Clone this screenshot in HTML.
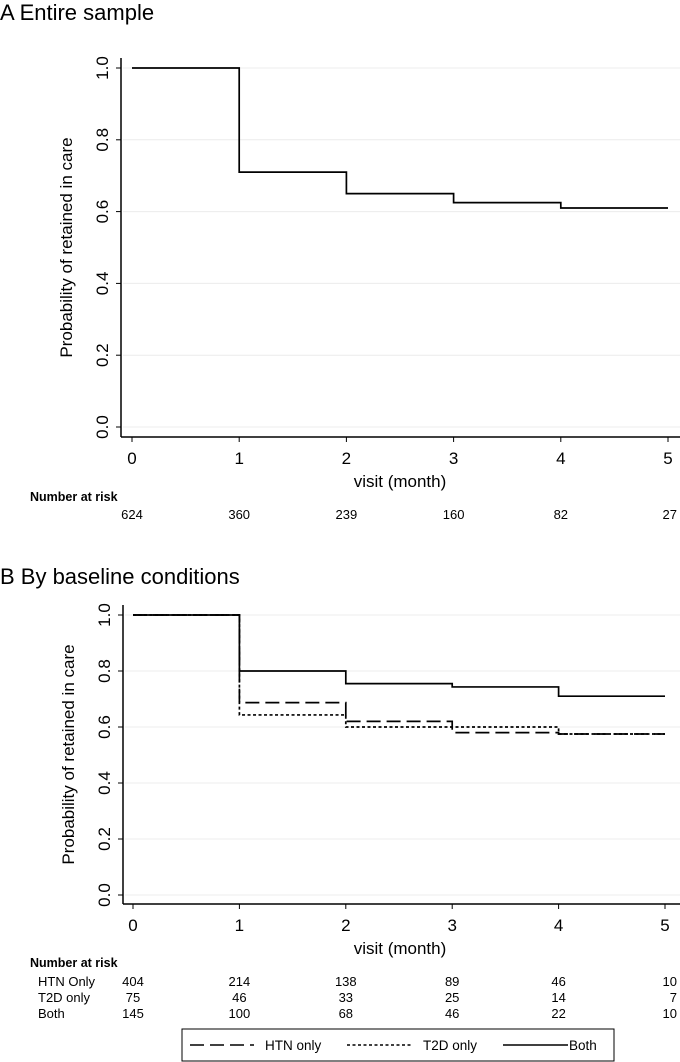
<!DOCTYPE html>
<html><head><meta charset="utf-8"><style>
html,body{margin:0;padding:0;background:#fff;}
svg{display:block;font-family:"Liberation Sans",Arial,sans-serif;}
</style></head><body>
<svg id="c" width="680" height="1062" viewBox="0 0 680 1062">
<text x="0" y="20" font-size="22">A  Entire sample</text>
<text x="0" y="584" font-size="22">B  By baseline conditions</text>
<g id="gA"></g>
<g id="gB"></g>
<g>
<rect x="182" y="1029" width="432" height="32" fill="none" stroke="#000" stroke-width="1"/>
<line x1="190" y1="1045" x2="254" y2="1045" stroke="#000" stroke-width="1.6" stroke-dasharray="14,6"/>
<text x="265" y="1050" font-size="13.5">HTN only</text>
<line x1="347" y1="1045" x2="411" y2="1045" stroke="#000" stroke-width="1.6" stroke-dasharray="3,2.5"/>
<text x="423" y="1050" font-size="13.5">T2D only</text>
<line x1="503" y1="1045" x2="568" y2="1045" stroke="#000" stroke-width="1.6"/>
<text x="569" y="1050" font-size="13.5">Both</text>
</g>
</svg>
<script>
const xTicks=[0,1,2,3,4,5];
const yTicks=[0,0.2,0.4,0.6,0.8,1.0];
const yTickLabels=["0.0","0.2","0.4","0.6","0.8","1.0"];
const survA=[1.0,0.71,0.65,0.625,0.61];
const riskA=[624,360,239,160,82,27];
const survBoth=[1.0,0.80,0.755,0.743,0.71];
const survHTN=[1.0,0.687,0.62,0.58,0.575];
const survT2D=[1.0,0.643,0.60,0.60,0.575];
const riskHTN=[404,214,138,89,46,10];
const riskT2D=[75,46,33,25,14,7];
const riskBoth=[145,100,68,46,22,10];
const NS="http://www.w3.org/2000/svg";
function mk(tag,attrs,parent,txt){const e=document.createElementNS(NS,tag);for(const k in attrs)e.setAttribute(k,attrs[k]);if(txt!==undefined)e.textContent=txt;parent.appendChild(e);return e;}
function panel(g,cfg){
  const sx=v=>cfg.x0+(cfg.x5-cfg.x0)*v/5;
  const sy=v=>cfg.y0+(cfg.y1-cfg.y0)*v;
  yTicks.forEach((t,i)=>{
    const gl=mk('line',{x1:cfg.ax+2,x2:680,y1:sy(t),y2:sy(t),stroke:'#ececec','stroke-width':1},g);
    
    
    const tk=mk('line',{x1:cfg.ax-5,x2:cfg.ax,y1:sy(t),y2:sy(t),stroke:'#000','stroke-width':1},g);
    
    
    const lb=mk('text',{x:0,y:0,'font-size':17,'text-anchor':'middle',transform:`translate(${cfg.ax-13},${sy(t)}) rotate(-90)`},g,yTickLabels[i]);
    
    
  });
  const ya=mk('line',{x1:cfg.ax,x2:cfg.ax,y1:cfg.top,y2:cfg.xa,stroke:'#000','stroke-width':1.5},g);
  
  
  const xa=mk('line',{x1:cfg.ax,x2:680,y1:cfg.xa,y2:cfg.xa,stroke:'#000','stroke-width':1.5},g);
  
  
  xTicks.forEach(t=>{
    const tk=mk('line',{x1:sx(t),x2:sx(t),y1:cfg.xa,y2:cfg.xa+5,stroke:'#000','stroke-width':1},g);
    
    
    const lb=mk('text',{x:sx(t),y:cfg.xa+27,'font-size':17,'text-anchor':'middle'},g,String(t));
    
    
  });
  const xt=mk('text',{x:400,y:cfg.xa+50,'font-size':17,'text-anchor':'middle'},g,'visit (month)');
  
  
  const ytl=mk('text',{x:0,y:0,'font-size':17,'text-anchor':'middle',transform:`translate(${cfg.ax-49},${(cfg.top+cfg.xa)/2}) rotate(-90)`},g,'Probability of retained in care');
  
  
  cfg.series.forEach(s=>{
    let d=`M${sx(0)},${sy(s.v[0])}`;
    for(let i=1;i<s.v.length;i++){d+=` H${sx(i)} V${sy(s.v[i])}`;}
    d+=` H${sx(5)}`;
    const p=mk('path',{d:d,fill:'none',stroke:'#000','stroke-width':1.7,'stroke-dasharray':s.dash},g);
    
    
  });
  const nr=mk('text',{x:30,y:cfg.riskTitleY,'font-size':12.5,'font-weight':'bold'},g,'Number at risk');
  
  
  cfg.risk.forEach((r,ri)=>{
    const y=cfg.riskY+ri*16;
    if(r.label){const l=mk('text',{x:38,y:y,'font-size':13},g,r.label);
      
      }
    r.v.forEach((n,i)=>{
      const anchor=i===5?'end':'middle';
      const t=mk('text',{x:i===5?677:sx(i),y:y,'font-size':13,'text-anchor':anchor},g,String(n));
      
      
    });
  });
}
panel(document.getElementById('gA'),{ax:121,top:58,xa:437,x0:132,x5:668,y0:427,y1:68,riskTitleY:501,riskY:519,
  series:[{v:survA,dash:'none',name:'survival-curve-entire'}],
  risk:[{label:'',v:riskA}]});
panel(document.getElementById('gB'),{ax:123,top:605,xa:904,x0:133,x5:665,y0:895,y1:615,riskTitleY:967,riskY:986,
  series:[{v:survHTN,dash:'14,6',name:'curve-htn-only'},{v:survT2D,dash:'3,2.5',name:'curve-t2d-only'},{v:survBoth,dash:'none',name:'curve-both'}],
  risk:[{label:'HTN Only',v:riskHTN},{label:'T2D only',v:riskT2D},{label:'Both',v:riskBoth}]});
</script>
</body></html>
